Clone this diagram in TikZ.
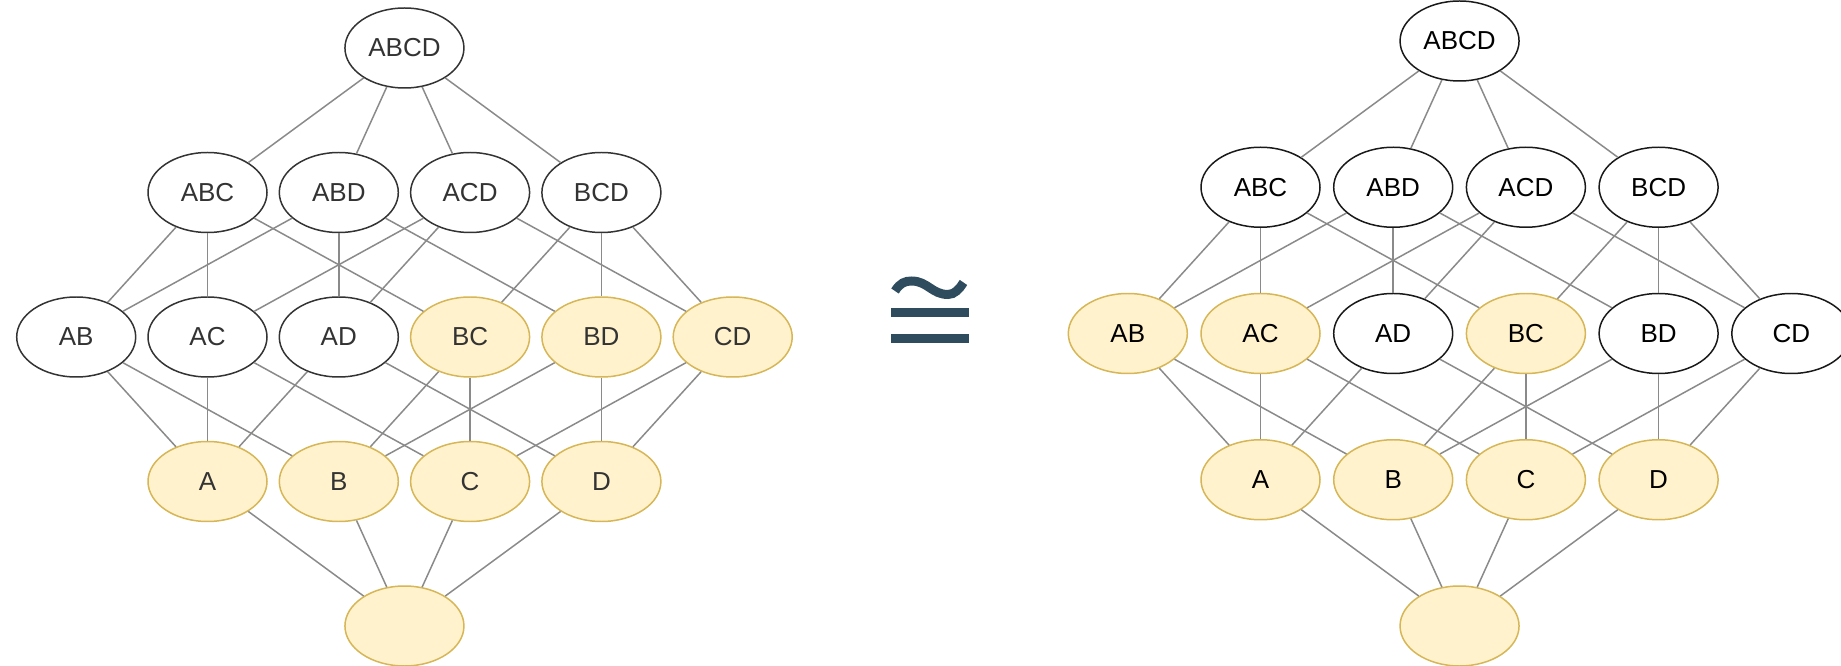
\documentclass[tikz,border=0pt]{standalone}
\usepackage{fontspec}
\setmainfont{Liberation Sans}
\usetikzlibrary{shapes}
\usepackage{xcolor}
\definecolor{amarillo}{HTML}{FFF2CC}
\definecolor{bordeamarillo}{HTML}{D6B656}
\definecolor{gris}{HTML}{8A8A8A}
\definecolor{grisoscuro}{HTML}{333333}
\definecolor{pizarra}{HTML}{2E4C5D}

\begin{document}
\begin{tikzpicture}[
        conj/.style={ellipse, fill=white, line width=0.85pt, minimum width=2.38cm,
          minimum height=1.6cm, inner sep=0pt, font=\fontsize{14.8}{17}\selectfont},
        izq/.style={draw=grisoscuro, text=grisoscuro},
        der/.style={draw=black!90, text=black},
        marcado/.style={fill=amarillo, draw=bordeamarillo},
        arista/.style={draw=gris, line width=0.85pt}
    ]
        \useasboundingbox (0,0) rectangle (36.82,13.3);
        % reticulo de la izquierda
        \def\xo{1.524}
        \def\dx{2.626}
        \def\dy{2.89}
        \node[conj,izq] (L-ABCD) at (\xo+2.5*\dx,0.78+4*\dy) {ABCD};
        \foreach \n/\i in {ABC/1,ABD/2,ACD/3,BCD/4}
        \node[conj,izq] (L-\n) at (\xo+\i*\dx,0.78+3*\dy) {\n};
        \foreach \n/\i/\s in {AB/0/izq,AC/1/izq,AD/2/izq,BC/3/marcado,BD/4/marcado,CD/5/marcado}
        \node[conj,izq,\s] (L-\n) at (\xo+\i*\dx,0.78+2*\dy) {\n};
        \foreach \n/\i in {A/1,B/2,C/3,D/4}
        \node[conj,izq,marcado] (L-\n) at (\xo+\i*\dx,0.78+\dy) {\n};
        \node[conj,marcado] (L-0) at (\xo+2.5*\dx,0.78) {}; % conjunto vacio
        % reticulo de la derecha
        \def\xo{22.556}
        \def\dx{2.654}
        \def\dy{2.925}
        \node[conj,der] (R-ABCD) at (\xo+2.5*\dx,0.78+4*\dy) {ABCD};
        \foreach \n/\i in {ABC/1,ABD/2,ACD/3,BCD/4}
        \node[conj,der] (R-\n) at (\xo+\i*\dx,0.78+3*\dy) {\n};
        \foreach \n/\i/\s in {AB/0/marcado,AC/1/marcado,AD/2/der,BC/3/marcado,BD/4/der,CD/5/der}
        \node[conj,der,\s] (R-\n) at (\xo+\i*\dx,0.78+2*\dy) {\n};
        \foreach \n/\i in {A/1,B/2,C/3,D/4}
        \node[conj,der,marcado] (R-\n) at (\xo+\i*\dx,0.78+\dy) {\n};
        \node[conj,marcado] (R-0) at (\xo+2.5*\dx,0.78) {}; % conjunto vacio
        % aristas de los dos diagramas
        \foreach \l in {L,R}
        \foreach \a/\b in {ABCD/ABC,ABCD/ABD,ABCD/ACD,ABCD/BCD,
            ABC/AB,ABC/AC,ABC/BC,ABD/AB,ABD/AD,ABD/BD,
            ACD/AC,ACD/AD,ACD/CD,BCD/BC,BCD/BD,BCD/CD,
            AB/A,AB/B,AC/A,AC/C,AD/A,AD/D,BC/B,BC/C,BD/B,BD/D,CD/C,CD/D,
            A/0,B/0,C/0,D/0}
        \draw[arista] (\l-\a) -- (\l-\b);
        % simbolo de isomorfismo
        \draw[pizarra, line width=0.18cm] (17.9,7.48) .. controls (18.0,7.64) and (18.1,7.68) .. (18.23,7.68)
            .. controls (18.55,7.68) and (18.64,7.41) .. (18.96,7.41)
            .. controls (19.09,7.41) and (19.19,7.52) .. (19.27,7.65);
        \fill[pizarra] (17.82,6.96) rectangle (19.38,7.14);
        \fill[pizarra] (17.82,6.44) rectangle (19.38,6.61);
\end{tikzpicture}
\end{document}
